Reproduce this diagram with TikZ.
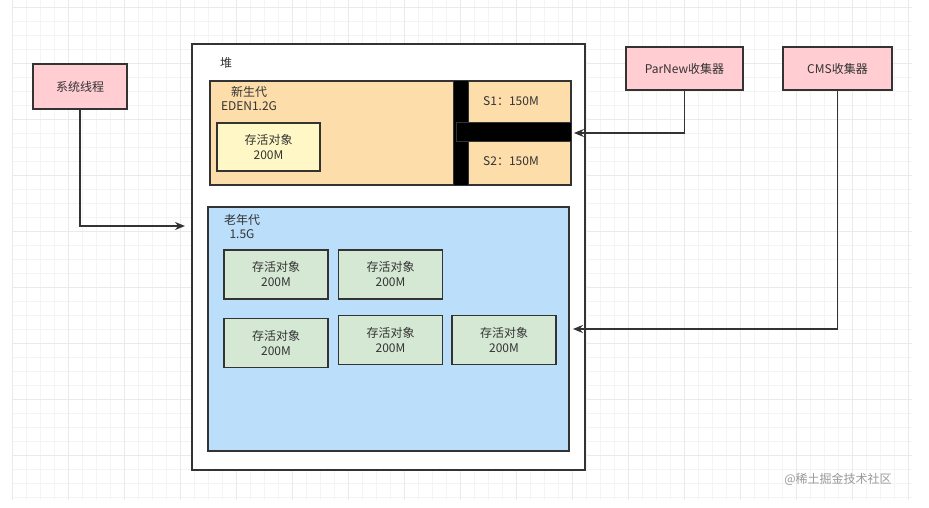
\documentclass[tikz,border=0pt]{standalone}
\usepackage{fontspec}
\setmainfont{Noto Sans CJK SC}
\usetikzlibrary{arrows.meta}
\definecolor{edge}{HTML}{333333}
\definecolor{txt}{HTML}{333333}
\definecolor{youngc}{HTML}{FDDDAA}
\definecolor{yellowc}{HTML}{FFF8C6}
\definecolor{oldc}{HTML}{BBDEFB}
\definecolor{greenc}{HTML}{D5E8D4}
\definecolor{pinkc}{HTML}{FFCDD2}
\definecolor{gridminor}{HTML}{F4F4F4}
\definecolor{gridmajor}{HTML}{EAEAEA}
\tikzset{
  box/.style={draw=edge, line width=1.8pt, inner sep=0pt, anchor=center, text=txt, align=center, font=\fontsize{12}{15}\selectfont},
  objbox/.style={box, fill=greenc, minimum width=104pt, minimum height=49pt},
  pinkbox/.style={box, fill=pinkc, minimum height=43pt},
  lbl/.style={text=txt, inner sep=0pt, font=\fontsize{12}{15}\selectfont},
  conn/.style={draw=edge, line width=1.8pt, -{Stealth[length=10pt,width=8pt]}},
  blackbar/.style={fill=black, draw=edge, line width=1pt, inner sep=0pt, anchor=center}
}
\begin{document}
\begin{tikzpicture}[x=1pt,y=-1pt]
\useasboundingbox (0,0) rectangle (929,508);
\fill[white] (0,0) rectangle (929,508);
% grid
\foreach \i in {0,...,64} {\draw[gridminor, line width=0.6pt] ({12+14*\i},0) -- ({12+14*\i},500);}
\foreach \j in {0,...,35} {\draw[gridminor, line width=0.6pt] (12,{7+14*\j}) -- (912,{7+14*\j});}
\foreach \i in {0,...,16} {\draw[gridmajor, line width=0.8pt] ({12+56*\i},0) -- ({12+56*\i},500);}
\foreach \j in {0,...,8} {\draw[gridmajor, line width=0.8pt] (12,{7+56*\j}) -- (912,{7+56*\j});}

% heap
\node[box, fill=white, line width=2.2pt, minimum width=393pt, minimum height=426pt] (heap) at (388.5,257) {};
\node[lbl] (heaplbl) at (226,63) {堆};

% young generation
\node[box, fill=youngc, minimum width=361pt, minimum height=104pt] (young) at (390.5,133) {};
\node[lbl] (younglbl) at (249,92) {新生代};
\node[lbl] (edenlbl) at (249,106) {EDEN1.2G};
\node[blackbar, minimum width=15pt, minimum height=104pt] (vbar) at (460.5,133) {};
\node[blackbar, minimum width=115pt, minimum height=19pt] (hbar) at (513.5,132.5) {};
\node[lbl] (s1) at (511,101) {S1：150M};
\node[lbl] (s2) at (511,161) {S2：150M};
\node[box, fill=yellowc, minimum width=103pt, minimum height=48pt] (yobj) at (268.5,147) {存活对象\\200M};

% old generation
\node[box, fill=oldc, minimum width=361pt, minimum height=244pt] (old) at (388.5,329) {};
\node[lbl] (oldlbl) at (242,220) {老年代};
\node[lbl] (oldsize) at (242,234) {1.5G};
\node[objbox] (g1) at (276,274.5) {存活对象\\200M};
\node[objbox] (g2) at (390.5,274.5) {存活对象\\200M};
\node[objbox] (g3) at (276,343) {存活对象\\200M};
\node[objbox] (g4) at (390.5,340) {存活对象\\200M};
\node[objbox] (g5) at (504,340) {存活对象\\200M};

% actors
\node[pinkbox, minimum width=94pt, minimum height=45pt] (sys) at (80,86.5) {系统线程};
\node[pinkbox, minimum width=117pt] (parnew) at (684.5,68.5) {ParNew收集器};
\node[pinkbox, minimum width=109pt] (cms) at (837.5,68.5) {CMS收集器};

% connectors
\coordinate (sysend) at (185,226);
\draw[conn] (sys.south) |- (sysend);
\draw[conn, shorten >=2pt] (parnew.south) |- (young.east);
\draw[conn, shorten >=3pt] (cms.south) |- (old.east);

% watermark
\node[text=black!40, inner sep=0pt, font=\fontsize{12}{14}\selectfont] (wm) at (838,479) {@稀土掘金技术社区};
\end{tikzpicture}
\end{document}
